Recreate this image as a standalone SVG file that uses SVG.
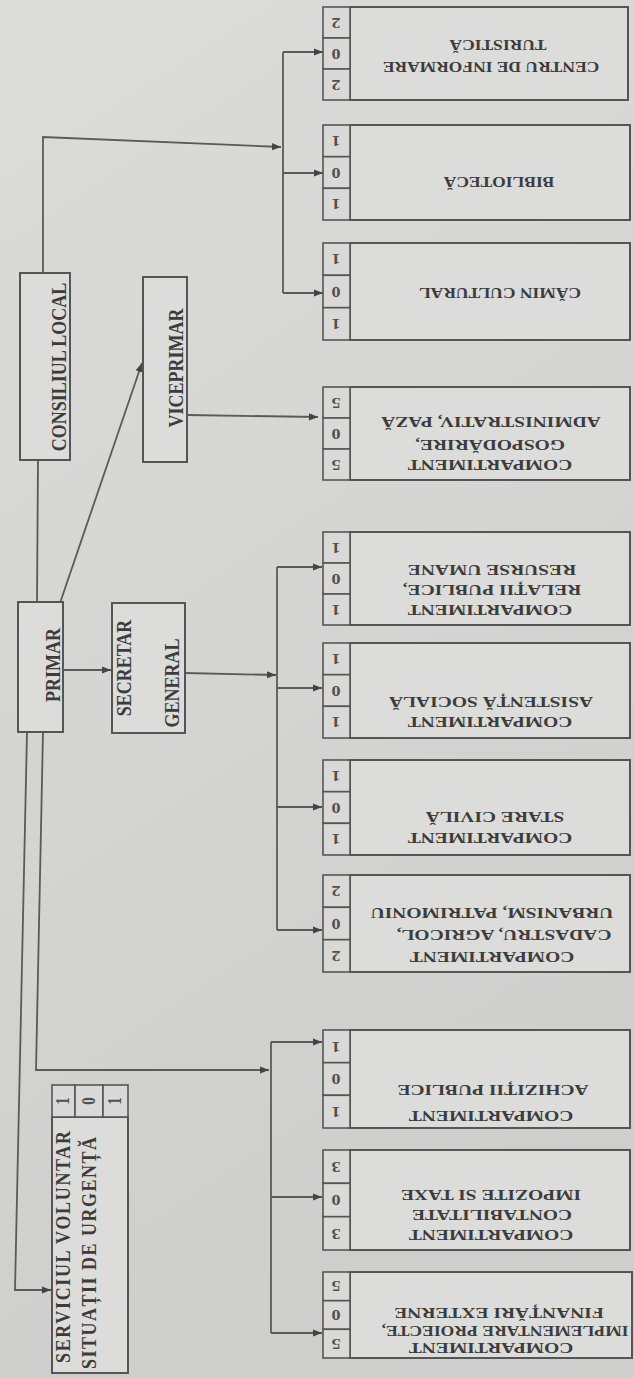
<svg xmlns="http://www.w3.org/2000/svg" width="634" height="1378" viewBox="0 0 634 1378">
<style>
.box{fill:#dcdcda;stroke:#555;stroke-width:2}
.cell{fill:#d9d9d7;stroke:#555;stroke-width:1.6}
.ln{fill:none;stroke:#5a5a5a;stroke-width:1.8}
.t{font-family:"Liberation Serif","DejaVu Serif",serif;font-weight:bold;fill:#3c3c3c;text-anchor:middle;dominant-baseline:central}
.r{font-size:15px}
.c{font-size:14px}
.l{font-size:18px}
.n{font-size:15px;fill:#505050}
</style>
<defs>
<linearGradient id="bg" x1="0" y1="0" x2="0.3" y2="1">
<stop offset="0" stop-color="#dcdcda"/>
<stop offset="1" stop-color="#cececc"/>
</linearGradient>
<marker id="a" viewBox="0 0 10 10" refX="10" refY="5" markerWidth="9" markerHeight="9" markerUnits="userSpaceOnUse" orient="auto">
<path d="M0,1 L10,5 L0,9 z" fill="#444"/>
</marker>
</defs>
<rect width="634" height="1378" fill="url(#bg)"/>

<g id="connectors">
<path class="ln" d="M43,273 L43,137 L281,147" marker-end="url(#a)"/>
<path class="ln" d="M283,52 L283,293"/>
<path class="ln" d="M283,52 L323,52" marker-end="url(#a)"/>
<path class="ln" d="M283,173 L323,173" marker-end="url(#a)"/>
<path class="ln" d="M283,293 L323,293" marker-end="url(#a)"/>
<path class="ln" d="M38,460 L37,602"/>
<path class="ln" d="M60,603 L142,363" marker-end="url(#a)"/>
<path class="ln" d="M187,415 L318,417" marker-end="url(#a)"/>
<path class="ln" d="M63,670 L111,670" marker-end="url(#a)"/>
<path class="ln" d="M185,673 L276,675" marker-end="url(#a)"/>
<path class="ln" d="M277,567 L277,930"/>
<path class="ln" d="M277,567 L322,567" marker-end="url(#a)"/>
<path class="ln" d="M277,688 L322,688" marker-end="url(#a)"/>
<path class="ln" d="M277,807 L322,807" marker-end="url(#a)"/>
<path class="ln" d="M277,930 L322,930" marker-end="url(#a)"/>
<path class="ln" d="M43,732 L36,1070 L269,1070" marker-end="url(#a)"/>
<path class="ln" d="M271,1042 L271,1333"/>
<path class="ln" d="M271,1042 L322,1042" marker-end="url(#a)"/>
<path class="ln" d="M271,1197 L322,1197" marker-end="url(#a)"/>
<path class="ln" d="M271,1333 L322,1333" marker-end="url(#a)"/>
<path class="ln" d="M27,732 L15,1290 L51,1290" marker-end="url(#a)"/>
</g>

<g id="consiliul-local">
<rect class="box" x="20" y="273" width="50" height="187"/>
<text class="t l" transform="translate(58,367) rotate(-90) scale(1,1.2)">CONSILIUL LOCAL</text>
</g>
<g id="viceprimar">
<rect class="box" x="143" y="277" width="44" height="185"/>
<text class="t l" transform="translate(175,368) rotate(-90) scale(1,1.2)">VICEPRIMAR</text>
</g>
<g id="primar">
<rect class="box" x="18" y="602" width="45" height="130"/>
<text class="t l" transform="translate(52,665) rotate(-90) scale(1,1.2)">PRIMAR</text>
</g>
<g id="secretar-general">
<rect class="box" x="112" y="603" width="73" height="130"/>
<text class="t l" transform="translate(123,668) rotate(-90) scale(1,1.2)">SECRETAR</text>
<text class="t l" transform="translate(171,683) rotate(-90) scale(1,1.2)">GENERAL</text>
</g>
<g id="serviciul-voluntar">
<rect class="box" x="52" y="1117" width="76" height="256"/>
<rect class="cell" x="52" y="1085" width="23" height="32"/>
<rect class="cell" x="75" y="1085" width="28" height="32"/>
<rect class="cell" x="103" y="1085" width="25" height="32"/>
<text class="t n" transform="translate(63,1101) rotate(-90) scale(1,1.2)">1</text>
<text class="t n" transform="translate(89,1101) rotate(-90) scale(1,1.2)">0</text>
<text class="t n" transform="translate(115,1101) rotate(-90) scale(1,1.2)">1</text>
<text class="t l" transform="translate(62,1247) rotate(-90) scale(1,1.2)" textLength="232" lengthAdjust="spacing">SERVICIUL VOLUNTAR</text>
<text class="t l" transform="translate(88,1253) rotate(-90) scale(1,1.2)" textLength="232" lengthAdjust="spacing">SITUAȚII DE URGENȚĂ</text>
</g>

<g id="centru-informare">
<rect class="box" x="350" y="7" width="278" height="93"/>
<rect class="cell" x="323" y="7" width="27" height="31"/>
<rect class="cell" x="323" y="38" width="27" height="31"/>
<rect class="cell" x="323" y="69" width="27" height="31"/>
<text class="t n" transform="translate(336,22.5) rotate(180) scale(1.2,1)">2</text>
<text class="t n" transform="translate(336,53.5) rotate(180) scale(1.2,1)">0</text>
<text class="t n" transform="translate(336,84.5) rotate(180) scale(1.2,1)">2</text>
<text class="t c" transform="translate(491,67) rotate(180) scale(1.25,1)">CENTRU DE INFORMARE</text>
<text class="t c" transform="translate(498,45) rotate(180) scale(1.25,1)">TURISTICĂ</text>
</g>
<g id="biblioteca">
<rect class="box" x="350" y="125" width="280" height="95"/>
<rect class="cell" x="323" y="125" width="27" height="31.7"/>
<rect class="cell" x="323" y="156.7" width="27" height="31.6"/>
<rect class="cell" x="323" y="188.3" width="27" height="31.7"/>
<text class="t n" transform="translate(336,141) rotate(180) scale(1.2,1)">1</text>
<text class="t n" transform="translate(336,172.5) rotate(180) scale(1.2,1)">0</text>
<text class="t n" transform="translate(336,204) rotate(180) scale(1.2,1)">1</text>
<text class="t c" transform="translate(499,182) rotate(180) scale(1.25,1)">BIBLIOTECĂ</text>
</g>
<g id="camin-cultural">
<rect class="box" x="350" y="243" width="280" height="97"/>
<rect class="cell" x="323" y="243" width="27" height="32.3"/>
<rect class="cell" x="323" y="275.3" width="27" height="32.4"/>
<rect class="cell" x="323" y="307.7" width="27" height="32.3"/>
<text class="t n" transform="translate(336,259) rotate(180) scale(1.2,1)">1</text>
<text class="t n" transform="translate(336,291.5) rotate(180) scale(1.2,1)">0</text>
<text class="t n" transform="translate(336,324) rotate(180) scale(1.2,1)">1</text>
<text class="t c" transform="translate(500,293) rotate(180) scale(1.25,1)">CĂMIN CULTURAL</text>
</g>
<g id="gospodarire">
<rect class="box" x="350" y="387" width="280" height="93"/>
<rect class="cell" x="323" y="387" width="27" height="31"/>
<rect class="cell" x="323" y="418" width="27" height="31"/>
<rect class="cell" x="323" y="449" width="27" height="31"/>
<text class="t n" transform="translate(336,402.5) rotate(180) scale(1.2,1)">5</text>
<text class="t n" transform="translate(336,433.5) rotate(180) scale(1.2,1)">0</text>
<text class="t n" transform="translate(336,464.5) rotate(180) scale(1.2,1)">5</text>
<text class="t r" transform="translate(490,465) rotate(180) scale(1.3,1)">COMPARTIMENT</text>
<text class="t r" transform="translate(490,445) rotate(180) scale(1.3,1)">GOSPODĂRIRE,</text>
<text class="t r" transform="translate(491,422) rotate(180) scale(1.3,1)">ADMINISTRATIV, PAZĂ</text>
</g>
<g id="relatii-publice">
<rect class="box" x="350" y="532" width="280" height="93"/>
<rect class="cell" x="323" y="532" width="27" height="31"/>
<rect class="cell" x="323" y="563" width="27" height="31"/>
<rect class="cell" x="323" y="594" width="27" height="31"/>
<text class="t n" transform="translate(336,547.5) rotate(180) scale(1.2,1)">1</text>
<text class="t n" transform="translate(336,578.5) rotate(180) scale(1.2,1)">0</text>
<text class="t n" transform="translate(336,609.5) rotate(180) scale(1.2,1)">1</text>
<text class="t r" transform="translate(490,610) rotate(180) scale(1.3,1)">COMPARTIMENT</text>
<text class="t r" transform="translate(492,590) rotate(180) scale(1.3,1)">RELAȚII PUBLICE,</text>
<text class="t r" transform="translate(492,570) rotate(180) scale(1.3,1)">RESURSE UMANE</text>
</g>
<g id="asistenta-sociala">
<rect class="box" x="350" y="643" width="280" height="95"/>
<rect class="cell" x="323" y="643" width="27" height="31.7"/>
<rect class="cell" x="323" y="674.7" width="27" height="31.6"/>
<rect class="cell" x="323" y="706.3" width="27" height="31.7"/>
<text class="t n" transform="translate(336,659) rotate(180) scale(1.2,1)">1</text>
<text class="t n" transform="translate(336,690.5) rotate(180) scale(1.2,1)">0</text>
<text class="t n" transform="translate(336,722) rotate(180) scale(1.2,1)">1</text>
<text class="t r" transform="translate(490,722) rotate(180) scale(1.3,1)">COMPARTIMENT</text>
<text class="t r" transform="translate(491,702) rotate(180) scale(1.3,1)">ASISTENȚĂ SOCIALĂ</text>
</g>
<g id="stare-civila">
<rect class="box" x="350" y="760" width="280" height="95"/>
<rect class="cell" x="323" y="760" width="27" height="31.7"/>
<rect class="cell" x="323" y="791.7" width="27" height="31.6"/>
<rect class="cell" x="323" y="823.3" width="27" height="31.7"/>
<text class="t n" transform="translate(336,776) rotate(180) scale(1.2,1)">1</text>
<text class="t n" transform="translate(336,807.5) rotate(180) scale(1.2,1)">0</text>
<text class="t n" transform="translate(336,839) rotate(180) scale(1.2,1)">1</text>
<text class="t r" transform="translate(490,838) rotate(180) scale(1.3,1)">COMPARTIMENT</text>
<text class="t r" transform="translate(495,817) rotate(180) scale(1.3,1)">STARE CIVILĂ</text>
</g>
<g id="cadastru">
<rect class="box" x="350" y="875" width="280" height="97"/>
<rect class="cell" x="323" y="875" width="27" height="32.3"/>
<rect class="cell" x="323" y="907.3" width="27" height="32.4"/>
<rect class="cell" x="323" y="939.7" width="27" height="32.3"/>
<text class="t n" transform="translate(336,891) rotate(180) scale(1.2,1)">2</text>
<text class="t n" transform="translate(336,923.5) rotate(180) scale(1.2,1)">0</text>
<text class="t n" transform="translate(336,956) rotate(180) scale(1.2,1)">2</text>
<text class="t r" transform="translate(492,957) rotate(180) scale(1.3,1)">COMPARTIMENT</text>
<text class="t r" transform="translate(504,935) rotate(180) scale(1.3,1)">CADASTRU, AGRICOL,</text>
<text class="t r" transform="translate(492,913) rotate(180) scale(1.3,1)">URBANISM, PATRIMONIU</text>
</g>
<g id="achizitii-publice">
<rect class="box" x="350" y="1030" width="280" height="98"/>
<rect class="cell" x="323" y="1030" width="27" height="32.7"/>
<rect class="cell" x="323" y="1062.7" width="27" height="32.6"/>
<rect class="cell" x="323" y="1095.3" width="27" height="32.7"/>
<text class="t n" transform="translate(336,1046.5) rotate(180) scale(1.2,1)">1</text>
<text class="t n" transform="translate(336,1079) rotate(180) scale(1.2,1)">0</text>
<text class="t n" transform="translate(336,1111.5) rotate(180) scale(1.2,1)">1</text>
<text class="t r" transform="translate(491,1116) rotate(180) scale(1.3,1)">COMPARTIMENT</text>
<text class="t r" transform="translate(493,1090) rotate(180) scale(1.3,1)">ACHIZIȚII PUBLICE</text>
</g>
<g id="contabilitate">
<rect class="box" x="350" y="1150" width="280" height="100"/>
<rect class="cell" x="323" y="1150" width="27" height="33.3"/>
<rect class="cell" x="323" y="1183.3" width="27" height="33.4"/>
<rect class="cell" x="323" y="1216.7" width="27" height="33.3"/>
<text class="t n" transform="translate(336,1166.5) rotate(180) scale(1.2,1)">3</text>
<text class="t n" transform="translate(336,1200) rotate(180) scale(1.2,1)">0</text>
<text class="t n" transform="translate(336,1233.5) rotate(180) scale(1.2,1)">3</text>
<text class="t r" transform="translate(491,1235) rotate(180) scale(1.3,1)">COMPARTIMENT</text>
<text class="t r" transform="translate(492,1215) rotate(180) scale(1.3,1)">CONTABILITATE</text>
<text class="t r" transform="translate(491,1195) rotate(180) scale(1.3,1)">IMPOZITE SI TAXE</text>
</g>
<g id="implementare-proiecte">
<rect class="box" x="350" y="1272" width="282" height="86"/>
<rect class="cell" x="323" y="1272" width="27" height="28.7"/>
<rect class="cell" x="323" y="1300.7" width="27" height="28.6"/>
<rect class="cell" x="323" y="1329.3" width="27" height="28.7"/>
<text class="t n" transform="translate(336,1286) rotate(180) scale(1.2,1)">5</text>
<text class="t n" transform="translate(336,1315) rotate(180) scale(1.2,1)">0</text>
<text class="t n" transform="translate(336,1343.5) rotate(180) scale(1.2,1)">5</text>
<text class="t r" transform="translate(491,1348) rotate(180) scale(1.3,1)">COMPARTIMENT</text>
<text class="t r" transform="translate(505,1331) rotate(180) scale(1.3,1)" textLength="190" lengthAdjust="spacingAndGlyphs">IMPLEMENTARE PROIECTE,</text>
<text class="t r" transform="translate(499,1313) rotate(180) scale(1.3,1)">FINANȚĂRI EXTERNE</text>
</g>
</svg>
